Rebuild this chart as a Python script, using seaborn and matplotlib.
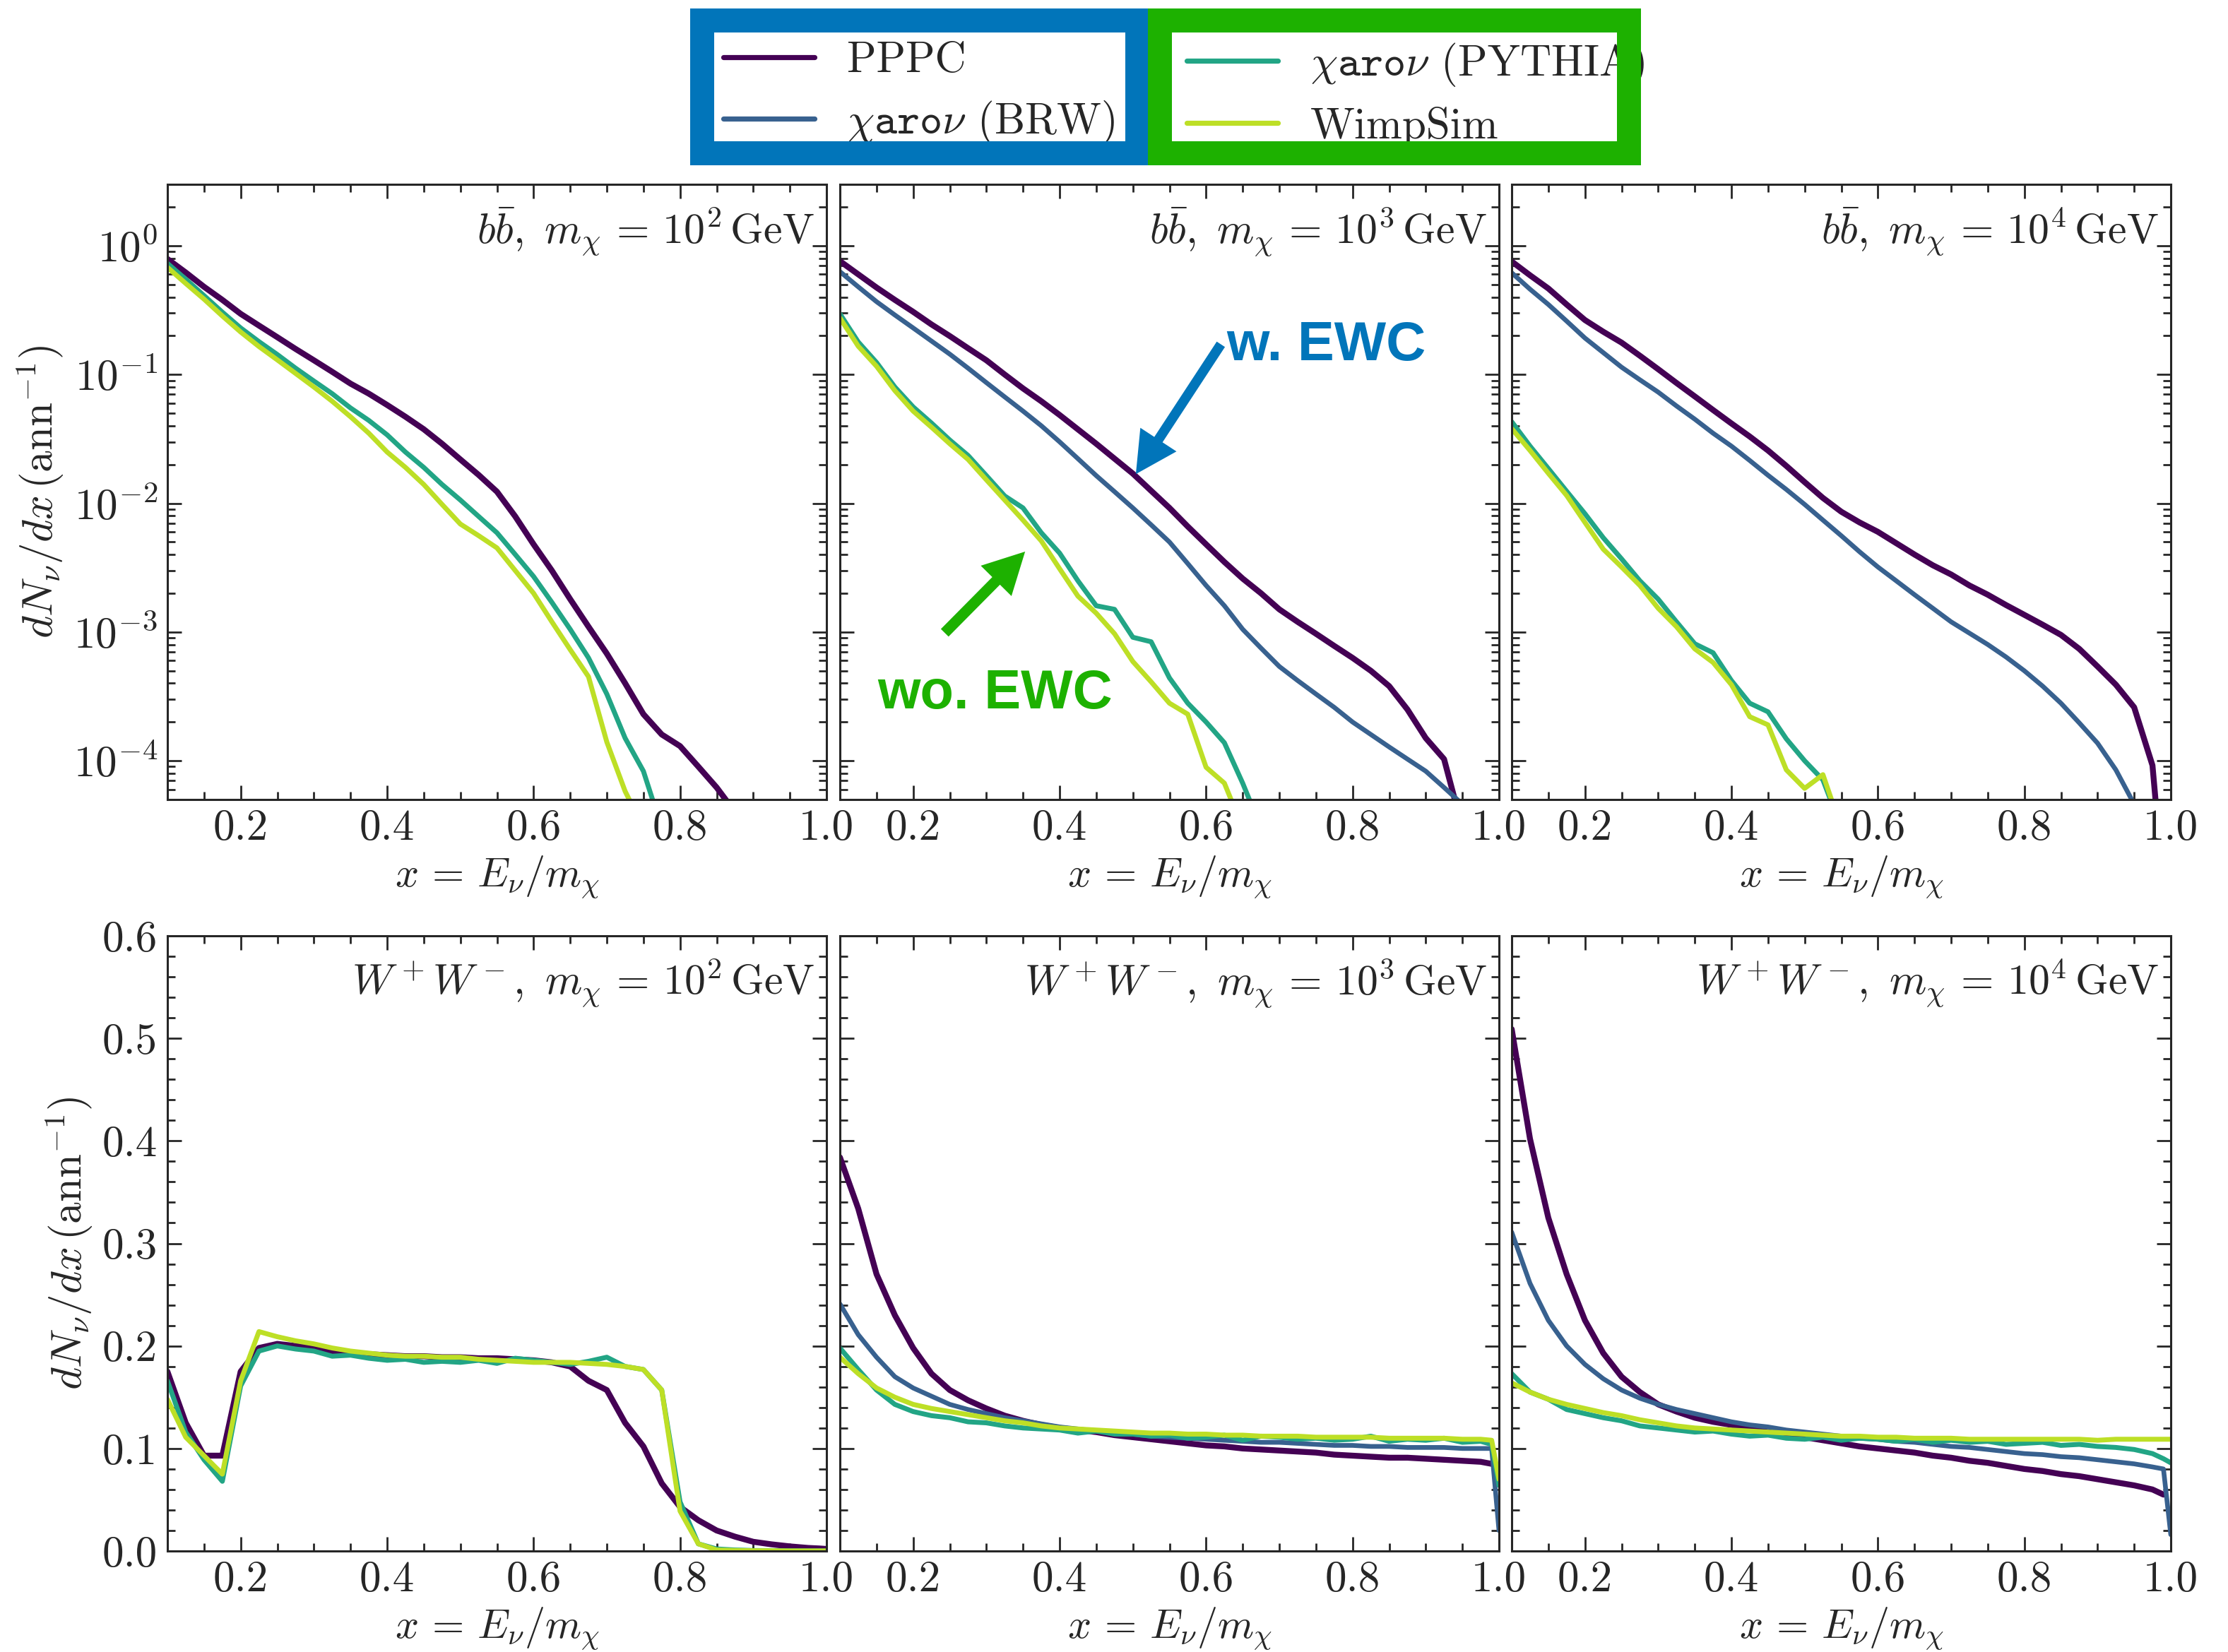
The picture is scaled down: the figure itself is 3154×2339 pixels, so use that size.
import numpy as np
import pandas as pd
import matplotlib
matplotlib.use("Agg")
import matplotlib.pyplot as plt
import seaborn as sns
from matplotlib.lines import Line2D
from matplotlib.patches import Rectangle
from matplotlib.ticker import (MultipleLocator, FixedLocator, FormatStrFormatter,
                               LogLocator, NullFormatter)

nan = np.nan

# ---------------- data ----------------
X = [0.1, 0.125, 0.15, 0.175, 0.2, 0.225, 0.25, 0.275, 0.3, 0.325, 0.35, 0.375,
     0.4, 0.425, 0.45, 0.475, 0.5, 0.525, 0.55, 0.575, 0.6, 0.625, 0.65, 0.675,
     0.7, 0.725, 0.75, 0.775, 0.8, 0.825, 0.85, 0.875, 0.9, 0.925, 0.95, 0.975,
     0.99, 1.0]

series_names = ["PPPC", "BRW", "PYTHIA", "WimpSim"]
legend_labels = {
    "PPPC": "PPPC",
    "BRW": r"$\chi\mathtt{aro}\nu$ (BRW)",
    "PYTHIA": r"$\chi\mathtt{aro}\nu$ (PYTHIA)",
    "WimpSim": "WimpSim",
}

# b bbar, m = 1e2 GeV
bb2_PPPC = [0.79, 0.62, 0.48, 0.38, 0.296, 0.24, 0.195, 0.158, 0.129, 0.105, 0.085, 0.071,
            0.058, 0.047, 0.0376, 0.029, 0.0219, 0.0166, 0.0123, 0.0079, 0.0048, 0.003,
            0.0018, 0.0011, 6.8e-4, 4.0e-4, 2.3e-4, 1.6e-4, 1.3e-4, 9.0e-5, 6.2e-5, 4.0e-5,
            nan, nan, nan, nan, nan, nan]
bb2_PYTHIA = [0.73, 0.55, 0.41, 0.305, 0.23, 0.18, 0.143, 0.112, 0.089, 0.071, 0.055, 0.044,
              0.034, 0.025, 0.019, 0.014, 0.0106, 0.0079, 0.0059, 0.004, 0.0027, 0.0017,
              0.00105, 6.3e-4, 3.3e-4, 1.5e-4, 8.3e-5, 3e-5,
              nan, nan, nan, nan, nan, nan, nan, nan, nan, nan]
bb2_WimpSim = [0.68, 0.51, 0.385, 0.285, 0.214, 0.165, 0.13, 0.102, 0.08, 0.062, 0.047, 0.035,
               0.025, 0.019, 0.014, 0.0098, 0.0069, 0.0056, 0.0045, 0.003, 0.002, 0.0012,
               7.3e-4, 4.5e-4, 1.4e-4, 5.8e-5, 3e-5,
               nan, nan, nan, nan, nan, nan, nan, nan, nan, nan, nan]

# b bbar, m = 1e3 GeV
bb3_PPPC = [0.76, 0.6, 0.474, 0.38, 0.307, 0.245, 0.199, 0.16, 0.129, 0.1, 0.078, 0.062,
            0.0485, 0.0375, 0.029, 0.0222, 0.017, 0.0125, 0.0092, 0.0066, 0.0048, 0.0035,
            0.0026, 0.002, 0.0015, 0.0012, 9.7e-4, 7.8e-4, 6.3e-4, 5.0e-4, 3.8e-4, 2.5e-4,
            1.5e-4, 1.03e-4, 3e-5, nan, nan, nan]
bb3_BRW = [0.63, 0.48, 0.368, 0.29, 0.23, 0.182, 0.144, 0.112, 0.0865, 0.067, 0.052, 0.04,
           0.030, 0.0222, 0.0164, 0.0123, 0.0092, 0.0068, 0.005, 0.0034, 0.0023, 0.0016,
           0.00105, 7.5e-4, 5.4e-4, 4.2e-4, 3.3e-4, 2.6e-4, 2.0e-4, 1.6e-4, 1.28e-4, 1.03e-4,
           8.3e-5, 6.2e-5, 4.6e-5, 3.4e-5, nan, nan]
bb3_PYTHIA = [0.296, 0.179, 0.124, 0.08, 0.056, 0.042, 0.031, 0.0235, 0.0164, 0.0114, 0.0092,
              0.0059, 0.0041, 0.0025, 0.0016, 0.0015, 9.1e-4, 8.4e-4, 4.4e-4, 2.8e-4, 2.0e-4,
              1.38e-4, 6.7e-5, 3e-5,
              nan, nan, nan, nan, nan, nan, nan, nan, nan, nan, nan, nan, nan, nan]
bb3_WimpSim = [0.275, 0.166, 0.116, 0.075, 0.052, 0.039, 0.029, 0.0219, 0.0152, 0.0106, 0.0074,
               0.0051, 0.0031, 0.0019, 0.0014, 9.7e-4, 5.9e-4, 4.1e-4, 2.8e-4, 2.3e-4, 8.9e-5,
               6.7e-5, 3e-5,
               nan, nan, nan, nan, nan, nan, nan, nan, nan, nan, nan, nan, nan, nan, nan]

# b bbar, m = 1e4 GeV
bb4_PPPC = [0.755, 0.59, 0.466, 0.35, 0.265, 0.215, 0.177, 0.14, 0.11, 0.086, 0.0676, 0.053,
            0.0417, 0.033, 0.0257, 0.0195, 0.0146, 0.011, 0.0086, 0.0071, 0.006, 0.0049,
            0.004, 0.0033, 0.0028, 0.0023, 0.00195, 0.00162, 0.00136, 0.00114, 9.5e-4, 7.4e-4,
            5.4e-4, 3.9e-4, 2.6e-4, 9.2e-5, 1e-5, nan]
bb4_BRW = [0.617, 0.46, 0.35, 0.26, 0.192, 0.148, 0.114, 0.091, 0.073, 0.057, 0.045, 0.035,
           0.0278, 0.0215, 0.0165, 0.0128, 0.0098, 0.0074, 0.0056, 0.0042, 0.0032, 0.0025,
           0.00195, 0.00153, 0.0012, 9.8e-4, 8.0e-4, 6.4e-4, 5.0e-4, 3.8e-4, 2.8e-4, 1.97e-4,
           1.37e-4, 8.5e-5, 4.6e-5, 2e-5, nan, nan]
bb4_PYTHIA = [0.043, 0.0278, 0.0186, 0.0124, 0.0083, 0.0054, 0.0037, 0.0025, 0.0018, 0.0012,
              8.1e-4, 6.9e-4, 4.2e-4, 2.8e-4, 2.4e-4, 1.48e-4, 1.0e-4, 7.1e-5, 3e-5,
              nan, nan, nan, nan, nan, nan, nan, nan, nan, nan, nan, nan, nan, nan, nan,
              nan, nan, nan, nan]
bb4_WimpSim = [0.038, 0.0257, 0.0171, 0.0115, 0.0071, 0.0044, 0.0032, 0.0023, 0.00153, 0.0011,
               7.4e-4, 5.8e-4, 3.9e-4, 2.2e-4, 1.9e-4, 8.5e-5, 6.1e-5, 7.8e-5, 3e-5,
               nan, nan, nan, nan, nan, nan, nan, nan, nan, nan, nan, nan, nan, nan, nan,
               nan, nan, nan, nan]

# W+W-, m = 1e2 GeV
ww2_PPPC = [0.175, 0.125, 0.093, 0.093, 0.175, 0.198, 0.202, 0.2, 0.198, 0.195, 0.193, 0.192,
            0.191, 0.19, 0.19, 0.189, 0.189, 0.188, 0.188, 0.187, 0.186, 0.184, 0.18, 0.166,
            0.157, 0.125, 0.102, 0.066, 0.043, 0.03, 0.02, 0.014, 0.009, 0.0065, 0.0045,
            0.003, 0.0025, 0.002]
ww2_PYTHIA = [0.166, 0.116, 0.089, 0.068, 0.161, 0.195, 0.2, 0.197, 0.195, 0.19, 0.191, 0.188,
              0.186, 0.187, 0.184, 0.185, 0.184, 0.186, 0.183, 0.188, 0.186, 0.184, 0.182,
              0.185, 0.189, 0.18, 0.177, 0.157, 0.048, 0.007, 0.002, 0.001, 0.0005, 0.0003,
              0.0002, 0.0001, 0.0001, 0.0001]
ww2_WimpSim = [0.148, 0.111, 0.093, 0.075, 0.166, 0.214, 0.209, 0.205, 0.202, 0.198, 0.195,
               0.193, 0.191, 0.19, 0.19, 0.189, 0.189, 0.187, 0.186, 0.185, 0.184, 0.184,
               0.184, 0.183, 0.182, 0.18, 0.177, 0.157, 0.039, 0.007, 0.001, 0.0005, 0.0003,
               0.0002, 0.0001, 0.0001, 0.0001, 0.0001]

# W+W-, m = 1e3 GeV
ww3_PPPC = [0.384, 0.334, 0.27, 0.23, 0.198, 0.173, 0.157, 0.147, 0.139, 0.132, 0.127, 0.123,
            0.12, 0.118, 0.116, 0.113, 0.111, 0.109, 0.107, 0.105, 0.103, 0.102, 0.1, 0.099,
            0.098, 0.097, 0.096, 0.094, 0.093, 0.092, 0.091, 0.091, 0.09, 0.089, 0.088, 0.087,
            0.085, nan]
ww3_BRW = [0.241, 0.211, 0.189, 0.17, 0.159, 0.151, 0.143, 0.138, 0.134, 0.13, 0.127, 0.124,
           0.121, 0.119, 0.117, 0.115, 0.114, 0.112, 0.111, 0.11, 0.109, 0.108, 0.107, 0.106,
           0.106, 0.105, 0.104, 0.103, 0.103, 0.102, 0.102, 0.101, 0.101, 0.101, 0.1, 0.1,
           0.1, 0.02]
ww3_PYTHIA = [0.198, 0.177, 0.157, 0.143, 0.136, 0.132, 0.13, 0.126, 0.125, 0.122, 0.12, 0.119,
              0.118, 0.115, 0.117, 0.114, 0.114, 0.112, 0.113, 0.11, 0.111, 0.113, 0.108,
              0.112, 0.111, 0.109, 0.11, 0.108, 0.109, 0.112, 0.107, 0.109, 0.108, 0.11,
              0.106, 0.107, 0.104, 0.064]
ww3_WimpSim = [0.189, 0.173, 0.159, 0.15, 0.143, 0.139, 0.136, 0.133, 0.13, 0.127, 0.125,
               0.122, 0.12, 0.119, 0.118, 0.117, 0.116, 0.115, 0.115, 0.114, 0.114, 0.113,
               0.113, 0.112, 0.112, 0.112, 0.111, 0.111, 0.111, 0.111, 0.11, 0.11, 0.11, 0.11,
               0.109, 0.109, 0.108, 0.07]

# W+W-, m = 1e4 GeV
ww4_PPPC = [0.509, 0.402, 0.325, 0.27, 0.225, 0.193, 0.17, 0.155, 0.143, 0.136, 0.13, 0.126,
            0.123, 0.119, 0.116, 0.113, 0.111, 0.108, 0.105, 0.102, 0.1, 0.098, 0.096, 0.093,
            0.091, 0.088, 0.086, 0.083, 0.08, 0.078, 0.075, 0.073, 0.07, 0.067, 0.064, 0.06,
            0.055, nan]
ww4_BRW = [0.311, 0.261, 0.225, 0.2, 0.182, 0.168, 0.157, 0.149, 0.143, 0.138, 0.134, 0.13,
           0.126, 0.123, 0.121, 0.118, 0.116, 0.114, 0.112, 0.11, 0.109, 0.107, 0.106, 0.104,
           0.102, 0.101, 0.099, 0.097, 0.095, 0.094, 0.092, 0.091, 0.089, 0.087, 0.085,
           0.082, 0.08, 0.016]
ww4_PYTHIA = [0.173, 0.155, 0.148, 0.138, 0.134, 0.13, 0.127, 0.122, 0.12, 0.118, 0.116, 0.117,
              0.114, 0.112, 0.113, 0.11, 0.109, 0.111, 0.108, 0.11, 0.109, 0.107, 0.109, 0.106,
              0.108, 0.106, 0.107, 0.104, 0.105, 0.106, 0.103, 0.104, 0.102, 0.101, 0.099,
              0.095, 0.09, 0.086]
ww4_WimpSim = [0.164, 0.155, 0.148, 0.143, 0.139, 0.135, 0.132, 0.128, 0.125, 0.122, 0.12,
               0.119, 0.118, 0.117, 0.116, 0.115, 0.114, 0.113, 0.112, 0.112, 0.111, 0.111,
               0.11, 0.11, 0.11, 0.109, 0.109, 0.109, 0.109, 0.109, 0.109, 0.109, 0.108,
               0.109, 0.109, 0.109, 0.109, 0.109]

panels = [
    ("bb", 2, {"PPPC": bb2_PPPC, "PYTHIA": bb2_PYTHIA, "WimpSim": bb2_WimpSim}),
    ("bb", 3, {"PPPC": bb3_PPPC, "BRW": bb3_BRW, "PYTHIA": bb3_PYTHIA, "WimpSim": bb3_WimpSim}),
    ("bb", 4, {"PPPC": bb4_PPPC, "BRW": bb4_BRW, "PYTHIA": bb4_PYTHIA, "WimpSim": bb4_WimpSim}),
    ("WW", 2, {"PPPC": ww2_PPPC, "PYTHIA": ww2_PYTHIA, "WimpSim": ww2_WimpSim}),
    ("WW", 3, {"PPPC": ww3_PPPC, "BRW": ww3_BRW, "PYTHIA": ww3_PYTHIA, "WimpSim": ww3_WimpSim}),
    ("WW", 4, {"PPPC": ww4_PPPC, "BRW": ww4_BRW, "PYTHIA": ww4_PYTHIA, "WimpSim": ww4_WimpSim}),
]

# ---------------- style ----------------
sns.set_style("ticks")
plt.rcParams.update({
    "font.family": "serif",
    "font.serif": ["cmr10", "DejaVu Serif"],
    "mathtext.fontset": "cm",
    "axes.unicode_minus": False,
    "axes.formatter.use_mathtext": True,
    "axes.linewidth": 1.1,
})

colors = {"PPPC": "#440154", "BRW": "#38618f", "PYTHIA": "#22a585", "WimpSim": "#bddf26"}
widths = {"PPPC": 3.0, "BRW": 2.4, "PYTHIA": 2.5, "WimpSim": 2.5}
BLUE = "#0175ba"
GREEN = "#1db100"

W_PX, H_PX, DPI = 3154, 2339, 200
fig = plt.figure(figsize=(W_PX / DPI, H_PX / DPI), dpi=DPI)

col_left = [237, 1189, 2140]
col_w = 933
row_top = [261, 1325]
row_h = 871

TICK_FS = 22
LAB_FS = 21
TITLE_FS = 21.5

axes = []
for i, (chan, mexp, data) in enumerate(panels):
    r, c = divmod(i, 3)
    l = col_left[c] / W_PX
    b = (H_PX - row_top[r] - row_h) / H_PX
    ax = fig.add_axes([l, b, col_w / W_PX, row_h / H_PX])
    axes.append(ax)
    if chan == "bb":
        ax.set_yscale("log")
    for name in series_names:
        if name not in data:
            continue
        df = pd.DataFrame({"x": X, "y": data[name]}).dropna()
        sns.lineplot(data=df, x="x", y="y", ax=ax, color=colors[name],
                     linewidth=widths[name], estimator=None, sort=False, legend=False)
    ax.set_xlim(0.1, 1.0)
    ax.xaxis.set_major_locator(FixedLocator([0.2, 0.4, 0.6, 0.8, 1.0]))
    ax.xaxis.set_major_formatter(FormatStrFormatter("%.1f"))
    ax.xaxis.set_minor_locator(MultipleLocator(0.05))
    if chan == "bb":
        ax.set_ylim(5e-5, 3.0)
        ax.yaxis.set_major_locator(LogLocator(base=10, numticks=20))
        ax.yaxis.set_minor_locator(LogLocator(base=10, subs=np.arange(2, 10), numticks=20))
        ax.yaxis.set_minor_formatter(NullFormatter())
        title = r"$b\bar{b},\ m_\chi\,=\,10^%d\,\mathrm{GeV}$" % mexp
    else:
        ax.set_ylim(0.0, 0.6)
        ax.yaxis.set_major_locator(MultipleLocator(0.1))
        ax.yaxis.set_major_formatter(FormatStrFormatter("%.1f"))
        ax.yaxis.set_minor_locator(MultipleLocator(0.02))
        title = r"$W^+W^-,\ m_\chi\,=\,10^%d\,\mathrm{GeV}$" % mexp
    ax.tick_params(which="both", direction="in", top=True, right=True, labelsize=TICK_FS)
    ax.tick_params(which="major", length=7.2, width=1.0, pad=5)
    ax.tick_params(which="minor", length=3.8, width=1.0)
    ax.set_xlabel(r"$x\,=\,E_\nu/m_\chi$", fontsize=LAB_FS, labelpad=3)
    if c == 0:
        ax.set_ylabel(r"$dN_\nu/dx\,(\mathrm{ann}^{-1})$", fontsize=22, labelpad=4)
    else:
        ax.set_ylabel("")
        ax.tick_params(axis="y", labelleft=False)
    ax.text(0.982, 0.965, title, transform=ax.transAxes, ha="right", va="top",
            fontsize=TITLE_FS)

# ---------------- annotations (middle top panel) ----------------
axm = axes[1]
axm.annotate("", xy=(0.449, 0.529), xytext=(0.578, 0.740), xycoords="axes fraction",
             arrowprops=dict(facecolor=BLUE, edgecolor="none", width=5, headwidth=22,
                             headlength=21, shrink=0))
axm.text(0.587, 0.714, "w. EWC", transform=axm.transAxes, ha="left", va="baseline",
         fontsize=28, fontweight="bold", family=["Liberation Sans", "DejaVu Sans"],
         color=BLUE)
axm.annotate("", xy=(0.281, 0.403), xytext=(0.159, 0.271), xycoords="axes fraction",
             arrowprops=dict(facecolor=GREEN, edgecolor="none", width=5.5, headwidth=22,
                             headlength=21, shrink=0))
axm.text(0.057, 0.148, "wo. EWC", transform=axm.transAxes, ha="left", va="baseline",
         fontsize=28, fontweight="bold", family=["Liberation Sans", "DejaVu Sans"],
         color=GREEN)

# ---------------- legends ----------------
LEG_FS = 22
def handle(name):
    return Line2D([], [], color=colors[name], linewidth=2.6)

y_mid = 1 - 133 / H_PX
leg_kw = dict(loc="center left", bbox_transform=fig.transFigure, frameon=False,
              fontsize=LEG_FS, handlelength=2.11, handletextpad=0.75, labelspacing=0.42,
              borderpad=0, borderaxespad=0)
leg1 = fig.legend([handle("PPPC"), handle("BRW")],
                  [legend_labels["PPPC"], legend_labels["BRW"]],
                  bbox_to_anchor=(1024 / W_PX, y_mid), **leg_kw)
leg2 = fig.legend([handle("PYTHIA"), handle("WimpSim")],
                  [legend_labels["PYTHIA"], legend_labels["WimpSim"]],
                  bbox_to_anchor=(1680 / W_PX, y_mid), **leg_kw)

BORDER_PT = 34 * 72 / DPI
def frame(x0, x1, y0, y1, color, z):
    # centre line of the border, in pixels from the top-left corner
    rect = Rectangle((x0 / W_PX, 1 - y1 / H_PX), (x1 - x0) / W_PX, (y1 - y0) / H_PX,
                     transform=fig.transFigure, fill=False, edgecolor=color,
                     linewidth=BORDER_PT, joinstyle="miter", zorder=10 + z)
    fig.add_artist(rect)

frame(994.5, 1610, 29, 216.5, BLUE, 0)
frame(1641.5, 2305.5, 29, 216.5, GREEN, 1)

fig.savefig("out.png", dpi=DPI)
